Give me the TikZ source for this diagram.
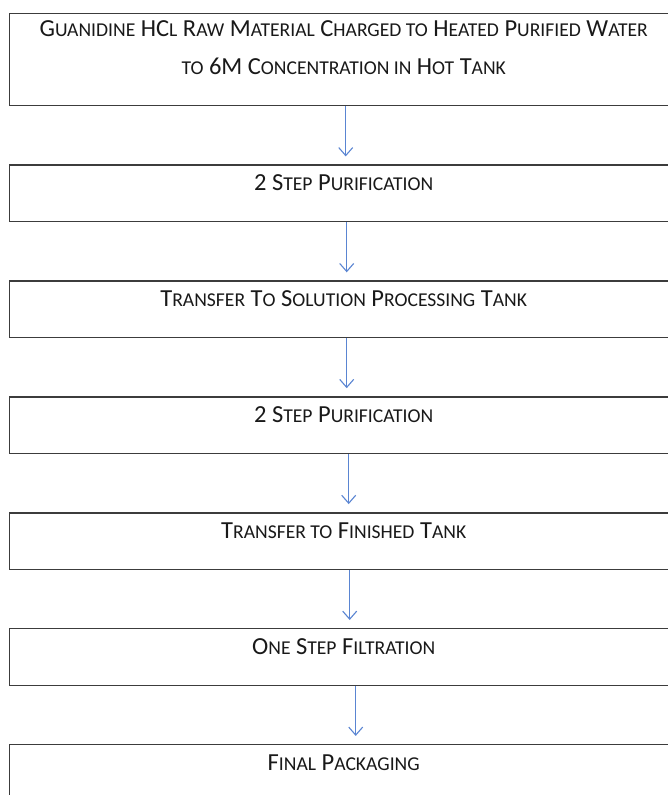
\documentclass[tikz,border=0pt]{standalone}
\usepackage{fontspec}
\setmainfont{Carlito}
\usepackage{xcolor}
\usepackage{tikz}
\usetikzlibrary{positioning,arrows.meta}
\definecolor{boxline}{HTML}{3C3C3C}
\definecolor{flowblue}{HTML}{5A85D2}
% fake small caps: caps stay large, the rest is set smaller
\newcommand\sm[1]{{\fontsize{19.6}{22}\selectfont #1}}

\begin{document}
\begin{tikzpicture}[
    x=1pt, y=-1pt,
    stepbox/.style={draw=boxline, line width=1.4pt, fill=white,
                minimum width=668pt, inner ysep=0pt, inner xsep=0pt,
                text height=25.5pt, text depth=31pt, align=center,
                font=\fontsize{24.5}{38}\selectfont, text=black!90},
    flow/.style={draw=flowblue, line width=1.1pt,
                -{Straight Barb[length=8pt,width=14pt]}},
    node distance=58pt,
]
\clip (0,0) rectangle (668,795);
\fill[white] (0,0) rectangle (668,795);

\node[stepbox, anchor=north west, text height=61pt, text depth=31pt]
    (raw) at (9,13) {G\sm{UANIDINE} HC\sm{L} R\sm{AW} M\sm{ATERIAL}
    C\sm{HARGED TO} H\sm{EATED} P\sm{URIFIED} W\sm{ATER}\\
    \sm{TO} 6M C\sm{ONCENTRATION IN} H\sm{OT} T\sm{ANK}};
\node[stepbox, below=of raw] (pur1) {2 S\sm{TEP} P\sm{URIFICATION}};
\node[stepbox, below=of pur1] (xfer) {T\sm{RANSFER} T\sm{O} S\sm{OLUTION}
    P\sm{ROCESSING} T\sm{ANK}};
\node[stepbox, below=of xfer] (pur2) {2 S\sm{TEP} P\sm{URIFICATION}};
\node[stepbox, below=of pur2] (fin) {T\sm{RANSFER TO} F\sm{INISHED} T\sm{ANK}};
\node[stepbox, below=of fin] (filt) {O\sm{NE} S\sm{TEP} F\sm{ILTRATION}};
\node[stepbox, below=of filt] (pack) {F\sm{INAL} P\sm{ACKAGING}};

% connectors
\draw[flow] ([xshift=2pt]raw.south)  -- ([xshift=2pt,yshift=8pt]pur1.north);
\draw[flow] ([xshift=3pt]pur1.south) -- ([xshift=3pt,yshift=8pt]xfer.north);
\draw[flow] ([xshift=3pt]xfer.south) -- ([xshift=3pt,yshift=8pt]pur2.north);
\draw[flow] ([xshift=5pt]pur2.south) -- ([xshift=5pt,yshift=8pt]fin.north);
\draw[flow] ([xshift=6pt]fin.south)  -- ([xshift=6pt,yshift=8pt]filt.north);
\draw[flow] ([xshift=12pt]filt.south) -- ([xshift=12pt,yshift=8pt]pack.north);
\end{tikzpicture}
\end{document}
